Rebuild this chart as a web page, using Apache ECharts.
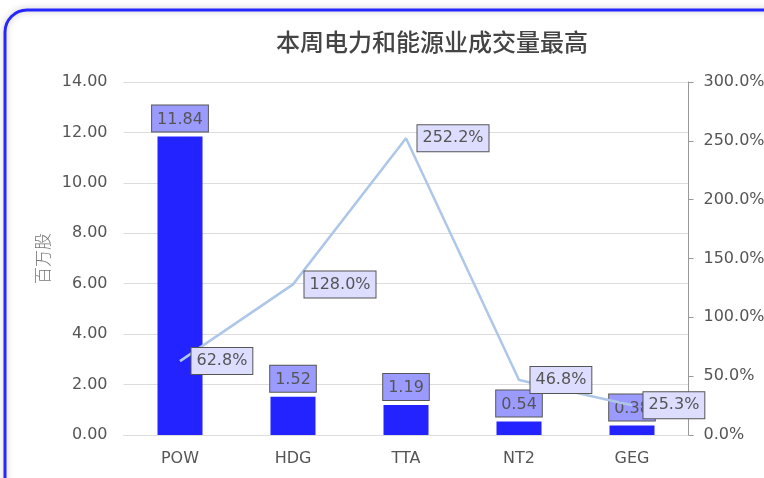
<!DOCTYPE html>
<html>
<head>
<meta charset="utf-8">
<script src="https://cdn.jsdelivr.net/npm/echarts@6/dist/echarts.min.js"></script>
<style>
  html, body { margin: 0; padding: 0; background: #fff; }
  #main { width: 764px; height: 478px; }
</style>
</head>
<body>
<div id="main"></div>
<script>
var categories = ['POW', 'HDG', 'TTA', 'NT2', 'GEG'];
var volume = [11.84, 1.52, 1.19, 0.54, 0.38];      // 百万股
var change = [62.8, 128.0, 252.2, 46.8, 25.3];     // %

var chart = echarts.init(document.getElementById('main'), null, { renderer: 'canvas' });

var font = 'DejaVu Sans';

var option = {
  animation: false,
  title: {
    text: '本周电力和能源业成交量最高',
    left: 427,
    textAlign: 'center',
    top: 25,
    textStyle: {
      fontFamily: 'Noto Sans CJK SC',
      fontSize: 24,
      fontWeight: 500,
      color: '#444'
    }
  },
  graphic: [
    {
      type: 'rect',
      shape: { x: 5, y: 10, width: 820, height: 520, r: 22 },
      style: {
        fill: 'none',
        stroke: '#2626ff',
        lineWidth: 3,
        shadowBlur: 6,
        shadowColor: 'rgba(0,0,0,0.25)'
      },
      z: 0
    }
  ],
  grid: {
    left: 123.5,
    right: 75.5,
    top: 82,
    bottom: 43,
    containLabel: false,
    outerBoundsMode: 'none'
  },
  xAxis: {
    type: 'category',
    data: categories,
    axisTick: { show: false },
    axisLine: { lineStyle: { color: '#ddd' } },
    axisLabel: {
      color: '#555',
      fontFamily: font,
      fontSize: 16,
      margin: 16
    }
  },
  yAxis: [
    {
      type: 'value',
      min: 0,
      max: 14,
      interval: 2,
      name: '百万股',
      nameLocation: 'middle',
      nameGap: 72,
      nameTextStyle: {
        color: '#777',
        fontSize: 17,
        fontWeight: 300,
        fontFamily: 'Noto Sans CJK SC'
      },
      axisLine: { show: false },
      axisTick: { show: false },
      splitLine: { lineStyle: { color: '#ddd', width: 1 } },
      axisLabel: {
        color: '#555',
        fontFamily: font,
        fontSize: 16,
        margin: 16,
        formatter: function (v) { return v.toFixed(2); }
      }
    },
    {
      type: 'value',
      min: 0,
      max: 300,
      interval: 50,
      position: 'right',
      axisLine: { show: true, lineStyle: { color: '#999' } },
      axisTick: { show: true, length: 5, lineStyle: { color: '#999' } },
      splitLine: { show: false },
      axisLabel: {
        color: '#555',
        fontFamily: font,
        fontSize: 16,
        margin: 15,
        formatter: function (v) { return v.toFixed(1) + '%'; }
      }
    }
  ],
  series: [
    {
      name: '成交量',
      type: 'bar',
      data: volume,
      barWidth: 45,
      itemStyle: { color: '#2323ff' },
      z: 2,
      label: {
        show: true,
        position: 'top',
        distance: 5,
        fontFamily: font,
        fontSize: 16,
        color: '#555',
        backgroundColor: '#9b9bff',
        borderColor: '#555',
        borderWidth: 1,
        padding: [6, 5, 4, 5],
        formatter: function (p) { return p.value.toFixed(2); }
      }
    },
    {
      name: '变化',
      type: 'line',
      yAxisIndex: 1,
      data: change,
      symbol: 'circle',
      symbolSize: 1,
      showSymbol: true,
      itemStyle: { color: 'rgba(0,0,0,0)' },
      lineStyle: { color: '#aec6e8', width: 2.5 },
      z: 5,
      label: {
        show: true,
        position: 'right',
        distance: 11,
        fontFamily: font,
        fontSize: 16,
        color: '#555',
        backgroundColor: '#ddddff',
        borderColor: '#555',
        borderWidth: 1,
        padding: [6, 5, 4, 5],
        formatter: function (p) { return p.value.toFixed(1) + '%'; }
      }
    }
  ]
};

chart.setOption(option);
</script>
</body>
</html>
